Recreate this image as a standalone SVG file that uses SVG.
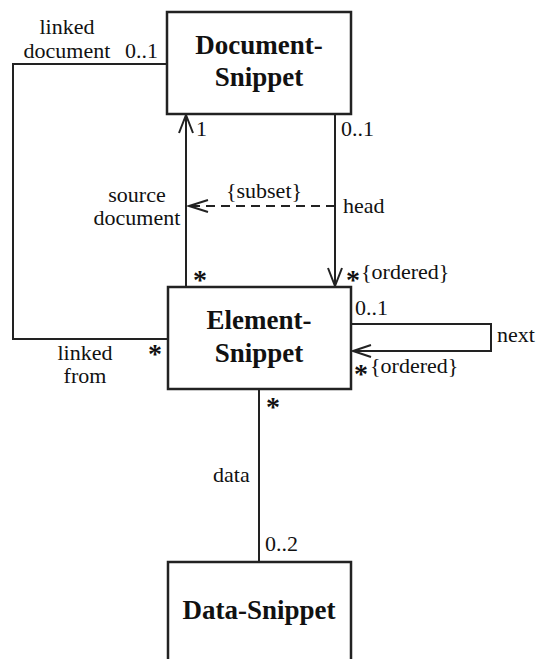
<svg xmlns="http://www.w3.org/2000/svg" width="538" height="659" viewBox="0 0 538 659">
<style>
.box{fill:#fff;stroke:#222;stroke-width:2.5}
.ln{fill:none;stroke:#222;stroke-width:2}
.dash{stroke-dasharray:9,6}
.arr{fill:none;stroke:#222;stroke-width:2;stroke-linejoin:miter}
.t{font-family:"Liberation Serif","Times New Roman",serif;font-size:22px;fill:#111}
.b{font-family:"Liberation Serif","Times New Roman",serif;font-size:27px;font-weight:bold;fill:#111;text-anchor:middle}
.s{font-family:"Liberation Serif","Times New Roman",serif;font-size:28px;font-weight:bold;fill:#111}
.m{text-anchor:middle}
.e{text-anchor:end}
</style>
<rect width="538" height="659" fill="#fff"/>
<g id="connectors">
<polyline class="ln" points="167,64 13,64 13,339 168,339"/>
<line class="ln" x1="186" y1="287" x2="186" y2="115"/>
<polyline class="arr" points="179,133 186,115 193,133"/>
<line class="ln" x1="335" y1="114" x2="335" y2="286"/>
<polyline class="arr" points="328,268 335,286 342,268"/>
<line class="ln dash" x1="335" y1="206" x2="190" y2="206"/>
<polyline class="arr" points="208,200 189,206 208,212"/>
<polyline class="ln" points="352,324 491,324 491,351 353,351"/>
<polyline class="arr" points="371,345 353,351 371,357"/>
<line class="ln" x1="259" y1="389" x2="259" y2="562"/>
</g>
<g id="labels">
<text class="t m" x="67" y="34">linked</text>
<text class="t m" x="67" y="58">document</text>
<text class="t" x="125" y="58">0..1</text>
<text class="t" x="196" y="136">1</text>
<text class="t" x="341" y="136">0..1</text>
<text class="t m" x="264" y="198">{subset}</text>
<text class="t m" x="137" y="202">source</text>
<text class="t m" x="137" y="225">document</text>
<text class="t" x="343" y="213">head</text>
<text class="s" x="193" y="289">*</text>
<text class="s" x="346" y="289">*</text>
<text class="t" x="361" y="279">{ordered}</text>
<text class="t m" x="85" y="360">linked</text>
<text class="t m" x="85" y="383">from</text>
<text class="s" x="148" y="363">*</text>
<text class="t" x="355" y="315">0..1</text>
<text class="t" x="497" y="342">next</text>
<text class="s" x="354" y="383">*</text>
<text class="t" x="370" y="373">{ordered}</text>
<text class="s" x="266" y="416">*</text>
<text class="t" x="213" y="482">data</text>
<text class="t" x="265" y="551">0..2</text>
</g>
<g id="document-snippet">
<rect class="box" x="167" y="12" width="184" height="102"/>
<text class="b" x="259" y="54">Document-</text>
<text class="b" x="259" y="86">Snippet</text>
</g>
<g id="element-snippet">
<rect class="box" x="168" y="287" width="183" height="102"/>
<text class="b" x="259" y="329">Element-</text>
<text class="b" x="259" y="362">Snippet</text>
</g>
<g id="data-snippet">
<rect class="box" x="168" y="562" width="183" height="110"/>
<text class="b" x="259" y="619">Data-Snippet</text>
</g>
</svg>
